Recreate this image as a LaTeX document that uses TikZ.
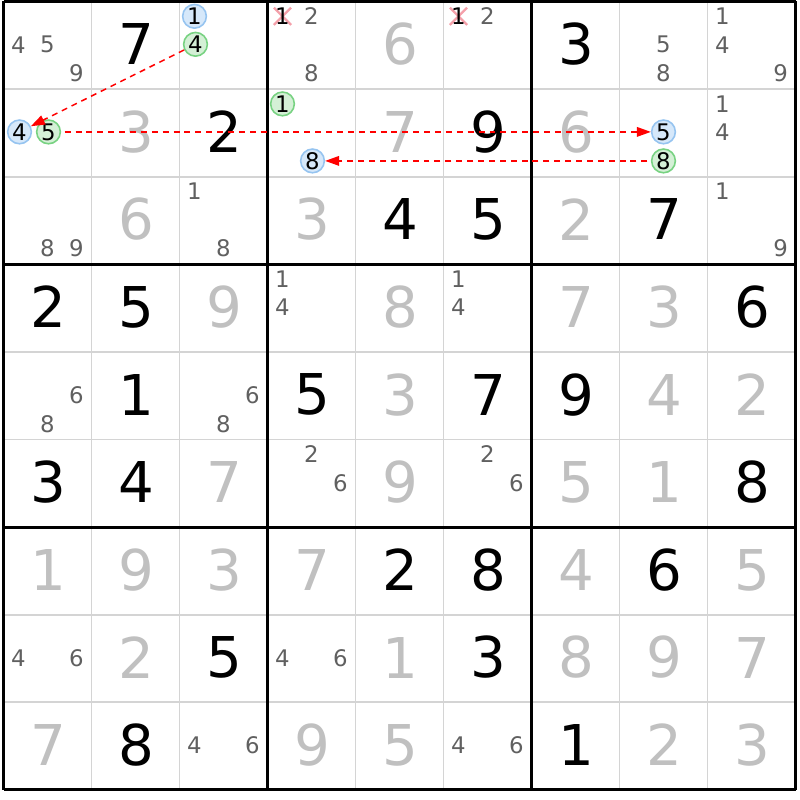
\documentclass[tikz,border=0pt]{standalone}
\usepackage{fontspec}
\setmainfont{DejaVu Sans}
\usetikzlibrary{arrows.meta,shapes.misc}

\definecolor{givengrey}{RGB}{192,192,192}
\definecolor{candgrey}{RGB}{96,96,96}
\definecolor{gridgrey}{RGB}{212,212,212}
\definecolor{blueedge}{RGB}{150,196,240}
\definecolor{bluefill}{RGB}{214,232,250}
\definecolor{greenedge}{RGB}{120,210,130}
\definecolor{greenfill}{RGB}{212,240,214}
\definecolor{crosspink}{RGB}{244,160,170}

% cell centres in pixels
\newcommand{\cx}[1]{3.5+88*(#1-0.5)}
\newcommand{\cy}[1]{1.5+87.6*(#1-0.5)}

\tikzset{
  thinline/.style={gridgrey, line width=1.1pt},
  boxline/.style={black, line width=1.7pt},
  solved/.style={inner sep=0pt, text=black, font=\fontsize{32}{32}\selectfont},
  given/.style={inner sep=0pt, text=givengrey, font=\fontsize{32}{32}\selectfont},
  cand/.style={inner sep=0pt, text=candgrey, font=\fontsize{13}{13}\selectfont},
  bluecand/.style={circle, draw=blueedge, fill=bluefill, line width=0.9pt,
    minimum size=13.5pt, inner sep=0pt, text=black, font=\fontsize{13}{13}\selectfont},
  greencand/.style={bluecand, draw=greenedge, fill=greenfill},
  elim/.style={cross out, draw=crosspink, line width=1.3pt, minimum size=8.5pt, inner sep=0pt},
  link/.style={red, line width=0.85pt, dash pattern=on 3.4pt off 2.8pt,
    -{Triangle[length=8pt,width=5.5pt]}}
}

\begin{document}
\begin{tikzpicture}[x=0.02cm, y=-0.02cm]
        \useasboundingbox (0,0) rectangle (800,800);

        % Grid
        \foreach \i in {1,2,4,5,7,8} {
            \draw[thinline] ({3.5+88*\i},1.5) -- ({3.5+88*\i},789.9);
            \draw[thinline] (3.5,{1.5+87.6*\i}) -- (795.5,{1.5+87.6*\i});
        }
        \foreach \i in {0,3,6,9} {
            \draw[boxline] ({3.5+88*\i},1.5) -- ({3.5+88*\i},789.9);
            \draw[boxline] (3.5,{1.5+87.6*\i}) -- (795.5,{1.5+87.6*\i});
        }

        % Solved digits
        \foreach \r/\c/\d in {1/2/7, 1/7/3, 2/3/2, 2/6/9, 3/5/4, 3/6/5, 3/8/7,
            4/1/2, 4/2/5, 4/9/6, 5/2/1, 5/4/5, 5/6/7, 5/7/9, 6/1/3, 6/2/4, 6/9/8,
            7/5/2, 7/6/8, 7/8/6, 8/3/5, 8/6/3, 9/2/8, 9/7/1}
            \node[solved] (v\r\c) at ({\cx{\c}+1},{\cy{\r}-1}) {\d};

        % Given digits
        \foreach \r/\c/\d in {1/5/6, 2/2/3, 2/5/7, 2/7/6, 3/2/6, 3/4/3, 3/7/2,
            4/3/9, 4/5/8, 4/7/7, 4/8/3, 5/5/3, 5/8/4, 5/9/2, 6/3/7, 6/5/9, 6/7/5, 6/8/1,
            7/1/1, 7/2/9, 7/3/3, 7/4/7, 7/7/4, 7/9/5, 8/2/2, 8/5/1, 8/7/8, 8/8/9, 8/9/7,
            9/1/7, 9/4/9, 9/5/5, 9/8/2, 9/9/3}
            \node[given] (v\r\c) at ({\cx{\c}+1},{\cy{\r}-1}) {\d};

        % Candidates
        \foreach \r/\c/\d in {1/1/4, 1/1/5, 1/1/9, 1/4/2, 1/4/8, 1/6/2, 1/8/5, 1/8/8,
            1/9/1, 1/9/4, 1/9/9, 2/9/1, 2/9/4, 3/1/8, 3/1/9, 3/3/1, 3/3/8, 3/9/1, 3/9/9,
            4/4/1, 4/4/4, 4/6/1, 4/6/4, 5/1/6, 5/1/8, 5/3/6, 5/3/8, 6/4/2, 6/4/6,
            6/6/2, 6/6/6, 8/1/4, 8/1/6, 8/4/4, 8/4/6, 9/3/4, 9/3/6, 9/6/4, 9/6/6}
            \node[cand] (k\r\c\d) at ({\cx{\c}-29+29*mod(\d-1,3)},{\cy{\r}-29+28.5*floor((\d-1)/3)}) {\d};

        % Eliminated candidates
        \node[elim] (x141) at ({\cx{4}-29},{\cy{1}-29}) {};
        \node[cand, text=black] (k141) at ({\cx{4}-29},{\cy{1}-29}) {1};
        \node[elim] (x161) at ({\cx{6}-29},{\cy{1}-29}) {};
        \node[cand, text=black] (k161) at ({\cx{6}-29},{\cy{1}-29}) {1};

        % Chain nodes
        \node[bluecand] (b13) at ({\cx{3}-29},{\cy{1}-29}) {1};
        \node[greencand] (g13) at ({\cx{3}-28},{\cy{1}-1}) {4};
        \node[bluecand] (b21) at ({\cx{1}-28},{\cy{2}-1}) {4};
        \node[greencand] (g21) at ({\cx{1}+1},{\cy{2}-1}) {5};
        \node[greencand] (g24) at ({\cx{4}-29},{\cy{2}-29}) {1};
        \node[bluecand] (b24) at ({\cx{4}+1},{\cy{2}+28}) {8};
        \node[bluecand] (b28) at ({\cx{8}},{\cy{2}-1}) {5};
        \node[greencand] (g28) at ({\cx{8}},{\cy{2}+28}) {8};

        % Links
        \draw[link] (g13) -- (b21);
        \draw[link, shorten <=2pt] (g21) -- (b28);
        \draw[link, shorten <=2pt] (g28) -- (b24);
    \end{tikzpicture}
\end{document}
